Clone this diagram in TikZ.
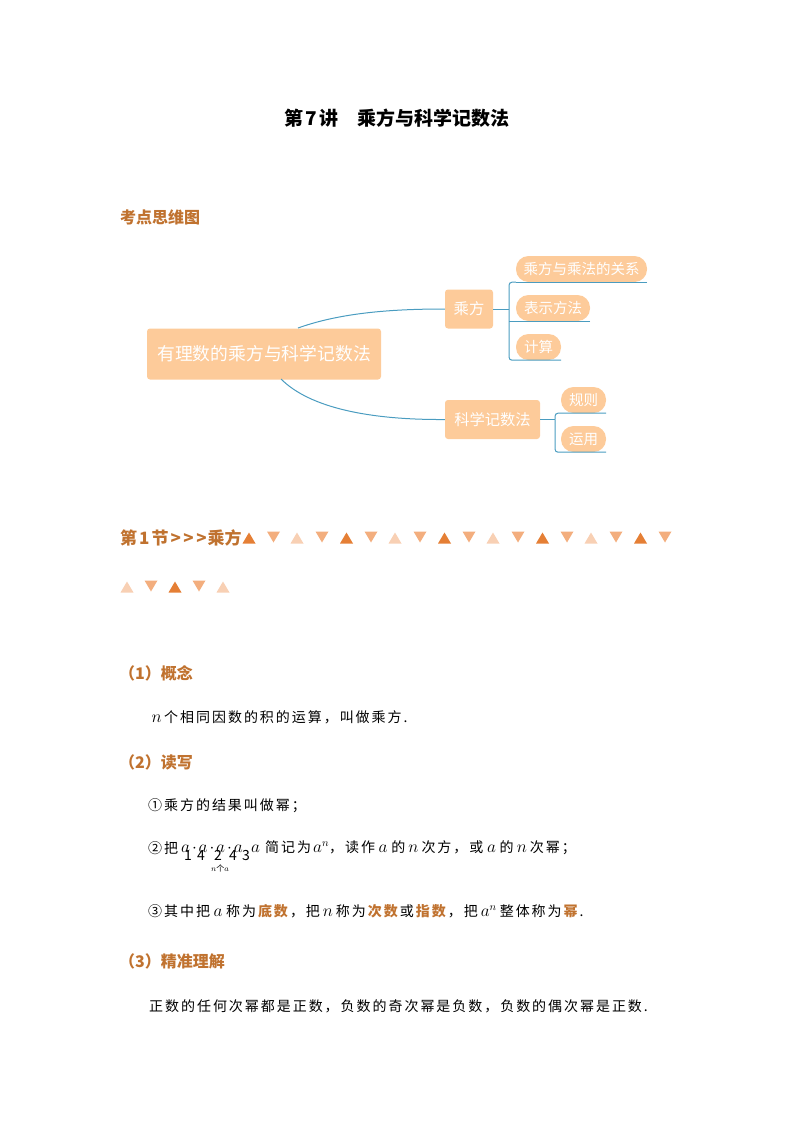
\documentclass[tikz,border=0pt]{standalone}
\usepackage{amsmath}
\usepackage{fontspec}
\setmainfont{Noto Sans CJK SC}
\newfontfamily\bodyfont[LetterSpace=14,BoldFeatures={LetterSpace=14}]{Noto Sans CJK SC}
\usetikzlibrary{positioning}
\definecolor{headorange}{HTML}{C0722F}
\definecolor{boxorange}{HTML}{FDCB9A}
\definecolor{linkblue}{HTML}{4A9CC0}
\definecolor{tridark}{HTML}{E57F35}
\definecolor{trimid}{HTML}{F3AE7E}
\definecolor{trilight}{HTML}{F8D0B4}
\tikzset{
	titletext/.style={font=\fontsize{19}{22}\selectfont\bfseries, text=black, inner sep=0pt},
	headtext/.style={font=\fontsize{16}{19}\selectfont\bfseries, text=headorange, anchor=west, inner sep=0pt},
	bodytext/.style={font=\fontsize{14}{17}\bodyfont, text=black, anchor=west, inner sep=0pt},
	digittext/.style={font=\fontsize{14}{15}\selectfont, text=black, inner sep=0pt},
	topicbox/.style={fill=boxorange, rounded corners=3pt, text=white, inner sep=0pt, font=\fontsize{15.3}{18}\selectfont},
	leafbox/.style={fill=boxorange, rounded corners=12.5pt, text=white, inner sep=0pt, minimum height=26pt, font=\fontsize{14.5}{17}\selectfont},
	link/.style={draw=linkblue, line width=1pt},
}
\newcommand{\keyword}[1]{\textcolor{headorange}{\bfseries #1}\hspace{2pt}}
\newcommand{\mathvar}[2]{\hspace{2pt}\makebox[#1pt][c]{\fontsize{16}{17}\selectfont$#2$}}   % width, formula
\newcommand{\drawuptri}[3]{   % x, y, colour
	\fill[#3] (#1-6.5, #2+5.5) -- (#1+6.5, #2+5.5) -- (#1, #2-5.5) -- cycle;
}
\newcommand{\drawdowntri}[3]{   % x, y, colour
	\fill[#3] (#1-6.5, #2-5.5) -- (#1+6.5, #2-5.5) -- (#1, #2+5.5) -- cycle;
}

\begin{document}
\begin{tikzpicture}[x=1pt, y=-1pt]
\useasboundingbox (0, 0) rectangle (794, 1123);

\node[titletext] (title) at (397, 118) {第\hspace{2pt}7\hspace{2pt}讲\hspace{1em}乘方与科学记数法};
\node[headtext] (mapHead) at (120, 217) {考点思维图};

% mind map
\node[topicbox, minimum width=234pt, minimum height=51pt, font=\fontsize{17.8}{21}\selectfont] (main) at (264, 354) {有理数的乘方与科学记数法};
\node[topicbox, minimum width=48pt, minimum height=39pt] (power) at (469, 309) {乘方};
\node[topicbox, minimum width=95pt, minimum height=39pt] (sci) at (492.5, 419.5) {科学记数法};

\node[leafbox, minimum width=131pt] (relation) at (581.5, 269) {乘方与乘法的关系};
\node[leafbox, minimum width=74pt] (notation) at (553, 308) {表示方法};
\node[leafbox, minimum width=45pt] (calc) at (538.5, 347) {计算};
\node[leafbox, minimum width=45pt] (rule) at (583.5, 400) {规则};
\node[leafbox, minimum width=45pt] (use) at (583.5, 439) {运用};

\coordinate (mainTop) at (298, 328);
\coordinate (mainBottom) at (281, 379);
\coordinate (powerTrunk) at (509, 309);
\coordinate (sciTrunk) at (555, 419.5);

\draw[link] (mainTop) .. controls (340, 313) and (390, 309) .. (power.west);
\draw[link] (mainBottom) .. controls (310, 408) and (370, 420) .. (sci.west);

\draw[link] (power.east) -- (powerTrunk);
\draw[link] (relation.south east) -- (relation.south west);
\draw[link, rounded corners=3pt] (relation.south west) -| (powerTrunk);
\draw[link] (notation.south east) -- (powerTrunk |- notation.south);
\draw[link, rounded corners=3pt] (powerTrunk) |- (calc.south east);

\draw[link] (sci.east) -- (sciTrunk);
\draw[link, rounded corners=3pt] (rule.south east) -| (sciTrunk);
\draw[link, rounded corners=3pt] (sciTrunk) |- (use.south east);

% section heading
\node[headtext, font=\fontsize{17}{20}\selectfont\bfseries] (secHead) at (120, 538) {第\hspace{2pt}1\hspace{2pt}节\hspace{2pt}>\hspace{2.5pt}>\hspace{2.5pt}>\hspace{1pt}乘方};

\drawuptri{249}{538}{tridark};
\drawdowntri{273.5}{537}{trimid};
\drawuptri{297}{538}{trilight};
\drawdowntri{322}{537}{trimid};
\drawuptri{346.5}{538}{tridark};
\drawdowntri{371}{537}{trimid};
\drawuptri{395}{538}{trilight};
\drawdowntri{420}{537}{trimid};
\drawuptri{444.5}{538}{tridark};
\drawdowntri{469}{537}{trimid};
\drawuptri{493}{538}{trilight};
\drawdowntri{518}{537}{trimid};
\drawuptri{542.5}{538}{tridark};
\drawdowntri{567}{537}{trimid};
\drawuptri{591}{538}{trilight};
\drawdowntri{616}{537}{trimid};
\drawuptri{640.5}{538}{tridark};
\drawdowntri{665}{537}{trimid};

\drawuptri{127}{587}{trilight};
\drawdowntri{151}{586}{trimid};
\drawuptri{175}{587}{tridark};
\drawdowntri{199}{586}{trimid};
\drawuptri{223}{587}{trilight};

% body
\node[headtext] (concept) at (119, 673) {（1）概念};
\node[bodytext] (conceptText) at (147, 717) {\mathvar{15}{n}个相同因数的积的运算，叫做乘方.};

\node[headtext] (rw) at (119, 762) {（2）读写};
\node[bodytext] (rwOne) at (148, 806) {①乘方的结果叫做幂；};

\node[bodytext] (rwTwo) at (148, 848) {②把};
\node[bodytext, font=\fontsize{16}{17}\selectfont] (aRow) at (181, 849) {$a\mkern2mu{\cdot}\mkern2mu a\mkern2mu{\cdot}\mkern2mu a\mkern2mu{\cdot}\mkern2mu a$};
\node[digittext] (digitA) at (188, 855) {1};
\node[digittext] (digitB) at (201, 855) {4};
\node[digittext] (digitC) at (218, 855) {2};
\node[digittext] (digitD) at (233, 855) {4};
\node[digittext] (digitE) at (246, 855) {3};
\node[bodytext, font=\fontsize{16}{17}\selectfont] (aLast) at (251, 849) {$a$};
\node[bodytext] (rwTwoRest) at (265, 848) {简记为\mathvar{16}{a^n}，读作\mathvar{12.25}{a}\hspace{2pt}的\mathvar{12.25}{n}\hspace{2pt}次方，或\mathvar{12.25}{a}\hspace{2pt}的\mathvar{12.25}{n}\hspace{2pt}次幂；};
\node[bodytext, font=\fontsize{8}{9}\bodyfont] (underLabel) at (211, 868) {$n$个$a$};

\node[bodytext] (rwThree) at (148, 911) {③其中把\mathvar{12}{a}\hspace{2pt}称为\hspace{2pt}\keyword{底数}，把\mathvar{12}{n}\hspace{2pt}称为\hspace{2pt}\keyword{次数}或\hspace{2pt}\keyword{指数}，把\mathvar{18}{a^n}\hspace{2pt}整体称为\hspace{2pt}\keyword{幂}.};

\node[headtext] (grasp) at (119, 961) {（3）精准理解};
\node[bodytext] (graspText) at (149, 1006) {正数的任何次幂都是正数，负数的奇次幂是负数，负数的偶次幂是正数.};
\end{tikzpicture}
\end{document}
